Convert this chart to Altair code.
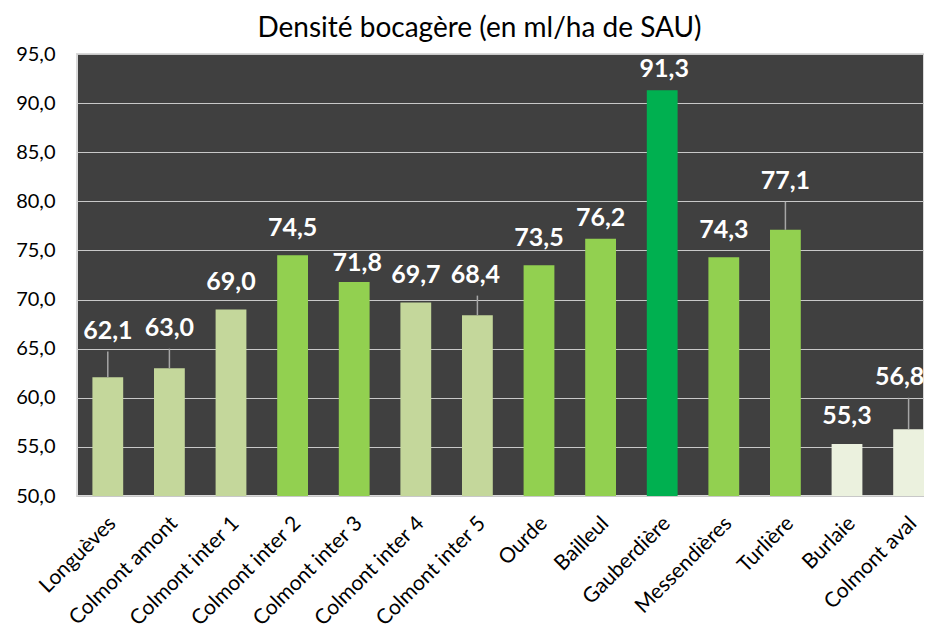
import altair as alt
import pandas as pd

secteurs = ["Longuèves", "Colmont amont", "Colmont inter 1", "Colmont inter 2",
            "Colmont inter 3", "Colmont inter 4", "Colmont inter 5", "Ourde",
            "Bailleul", "Gauberdière", "Messendières", "Turlière", "Burlaie",
            "Colmont aval"]
densite = [62.1, 63.0, 69.0, 74.5, 71.8, 69.7, 68.4, 73.5, 76.2, 91.3, 74.3, 77.1, 55.3, 56.8]
# height (in ml/ha units) at which each value label sits
label_at = [66.8, 67.1, 71.8, 77.3, 73.7, 72.5, 72.5, 76.3, 78.35, 93.45, 77.1, 82.05, 58.15, 62.1]
# small sideways nudge of some value labels, as in the picture (px)
label_shift = [0, 0, 0, 0, 3, 0, -2, 0, 0, 2, 0, 0, 0, -9]
# which labels are joined to their bar by a leader line
leader = [True, True, False, False, False, False, True, False, False, False, False, True, False, True]
classes = ["60 – 70", "60 – 70", "60 – 70", "70 – 80", "70 – 80", "60 – 70", "60 – 70",
           "70 – 80", "70 – 80", "> 80", "70 – 80", "70 – 80", "< 60", "< 60"]
y_ticks = [50, 55, 60, 65, 70, 75, 80, 85, 90, 95]
TITLE = "Densité bocagère (en ml/ha de SAU)"

class_order = ["< 60", "60 – 70", "70 – 80", "> 80"]
class_colors = ["#ebf1de", "#c4d79b", "#92d050", "#00b050"]

LEADER_GAP = 2.1

df = pd.DataFrame({
    "secteur": secteurs,
    "densite": densite,
    "label_at": label_at,
    "label_shift": label_shift,
    "leader": leader,
    "classe": classes,
})
df["texte"] = [f"{v:.1f}".replace(".", ",") for v in densite]
df["leader_top"] = df["label_at"] - LEADER_GAP

FONT = "Lato"
W, H = 847, 442

x_enc = alt.X("secteur:N", sort=secteurs, title=None,
              scale=alt.Scale(paddingInner=0.5, paddingOuter=0.125, align=1),
              axis=alt.Axis(labelAngle=-45, labelAlign="right", labelBaseline="middle",
                            labelFont=FONT, labelFontSize=21, labelColor="#000000",
                            labelPadding=24, labelOffset=5, ticks=False, domain=False,
                            grid=False, labelOverlap=False, labelLimit=300))
y_scale = alt.Scale(domain=[50, 95], nice=False, zero=False)

base = alt.Chart(df)

bars = base.mark_bar().encode(
    x=x_enc,
    y=alt.Y("densite:Q", scale=y_scale, title=None,
            axis=alt.Axis(values=y_ticks, labelExpr="replace(format(datum.value, '.1f'), '.', ',')",
                          labelFont=FONT, labelFontSize=20, labelColor="#000000",
                          labelPadding=22, ticks=False, domain=False,
                          grid=True, gridColor="#c8c8c8", gridWidth=1.2)),
    y2=alt.datum(50),
    color=alt.Color("classe:N", scale=alt.Scale(domain=class_order, range=class_colors),
                    legend=None),
)

leaders = base.transform_filter("datum.leader").mark_rule(
    color="#a6a6a6", strokeWidth=1.5
).encode(
    x=alt.X("secteur:N", sort=secteurs),
    y=alt.Y("densite:Q", scale=y_scale),
    y2="leader_top:Q",
)

label_layers = []
for s in sorted(set(label_shift)):
    label_layers.append(
        base.transform_filter(f"datum.label_shift == {s}").mark_text(
            font=FONT, fontWeight="bold", fontSize=25, color="#ffffff",
            baseline="middle", dx=s
        ).encode(
            x=alt.X("secteur:N", sort=secteurs),
            y=alt.Y("label_at:Q", scale=y_scale),
            text="texte:N",
        )
    )

title = alt.Chart(alt.Data(values=[{"t": TITLE}])).mark_text(
    font=FONT, fontSize=28, color="#000000", align="center", baseline="alphabetic"
).encode(
    text="t:N",
    x=alt.value(W / 2 - 21),
    y=alt.value(-17),
)

chart = alt.layer(bars, leaders, *label_layers, title).properties(
    width=W,
    height=H,
    autosize=alt.AutoSizeParams(type="none"),
    padding={"left": 69, "top": 46, "right": 0, "bottom": 129},
    background="#ffffff",
).configure_view(
    fill="#404040", stroke="#d9d9d9", strokeWidth=2
)

chart.save("out.html", embed_options={"renderer": "svg", "actions": False})
